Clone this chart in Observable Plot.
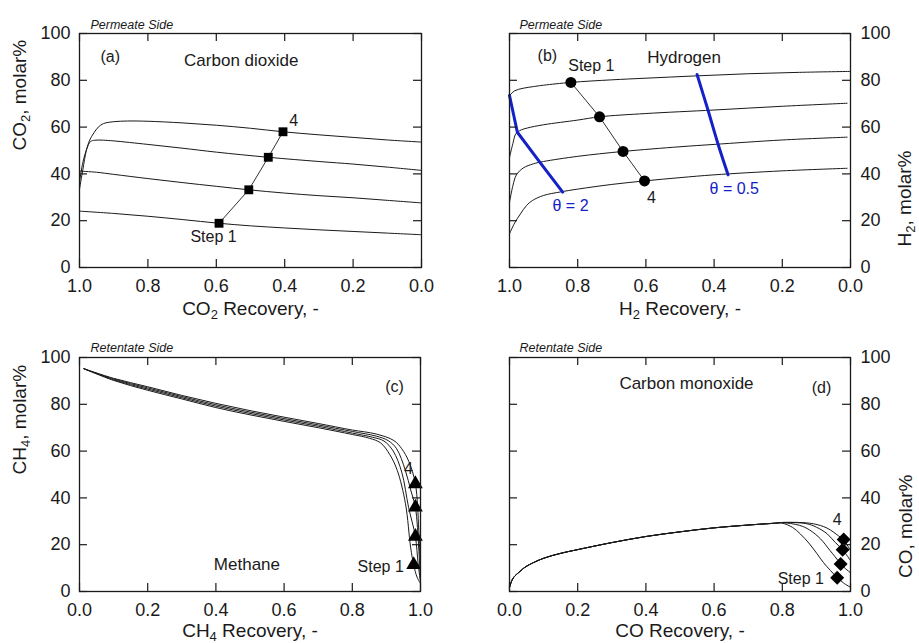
<!DOCTYPE html>
<html><head><meta charset="utf-8">
<script src="https://cdn.jsdelivr.net/npm/d3@7"></script>
<script src="https://cdn.jsdelivr.net/npm/@observablehq/plot@0.6"></script>
<style>
body{margin:0;background:#fff;}
#chart{position:relative;width:919px;height:643px;background:#fff;overflow:hidden;}
.panel{position:absolute;}
</style></head><body><div id="chart"></div>
<script>
// ---------- tick values ----------
const xTicks = [0, 0.2, 0.4, 0.6, 0.8, 1.0];
const yTicks = [0, 20, 40, 60, 80, 100];

// ---------- (a) CO2, permeate side ----------
const co2Step1 = [[1.0,24.1],[0.9,23.1],[0.8,21.9],[0.7,20.5],[0.592,18.9],[0.5,17.8],[0.4,16.9],[0.3,16.1],[0.2,15.4],[0.1,14.7],[0.0,14.0]];
const co2Step2 = [[1.0,41.2],[0.95,40.7],[0.9,39.8],[0.8,38.0],[0.7,36.3],[0.6,34.7],[0.505,33.2],[0.4,31.8],[0.3,30.7],[0.2,29.8],[0.1,28.7],[0.0,27.6]];
const co2Step3 = [[1.0,36.5],[0.99,45.0],[0.978,51.0],[0.968,53.8],[0.955,54.4],[0.93,54.4],[0.9,54.1],[0.8,52.6],[0.7,51.0],[0.6,49.3],[0.448,47.1],[0.3,45.3],[0.2,44.2],[0.1,42.9],[0.0,41.5]];
const co2Step4 = [[1.0,33.5],[0.99,42.0],[0.98,50.0],[0.97,54.5],[0.958,57.5],[0.945,60.0],[0.93,61.5],[0.9,62.3],[0.86,62.6],[0.8,62.5],[0.7,61.8],[0.6,60.8],[0.5,59.5],[0.405,58.0],[0.3,56.7],[0.2,55.6],[0.1,54.5],[0.0,53.6]];
const co2Markers = [[0.592,18.9],[0.505,33.2],[0.448,47.1],[0.405,58.0]];

// ---------- (b) H2, permeate side ----------
const h2Step1 = [[1.0,73.5],[0.985,75.5],[0.96,76.6],[0.93,77.3],[0.9,77.9],[0.82,79.1],[0.7,80.2],[0.6,80.9],[0.45,81.9],[0.3,82.8],[0.15,83.4],[0.0,83.8]];
const h2Step2 = [[1.0,47.1],[0.99,53.0],[0.982,57.0],[0.97,58.5],[0.948,59.6],[0.9,61.0],[0.8,63.0],[0.736,64.4],[0.6,65.8],[0.4,67.3],[0.2,68.9],[0.01,70.2]];
const h2Step3 = [[1.0,27.9],[0.99,35.0],[0.98,39.5],[0.96,42.5],[0.93,44.3],[0.9,45.3],[0.8,47.5],[0.667,49.6],[0.5,51.6],[0.4,52.6],[0.2,54.5],[0.01,55.7]];
const h2Step4 = [[1.0,14.4],[0.985,19.0],[0.968,22.9],[0.95,26.5],[0.933,28.6],[0.9,30.8],[0.85,32.3],[0.8,33.5],[0.7,35.5],[0.604,37.0],[0.5,38.4],[0.4,39.6],[0.2,41.3],[0.01,42.4]];
const h2Markers = [[0.820,79.1],[0.736,64.4],[0.667,49.6],[0.604,37.0]];
const theta2 = [[1.0,73.5],[0.977,57.8],[0.909,44.6],[0.844,32.2]];
const theta05 = [[0.450,82.5],[0.418,67.3],[0.389,53.0],[0.359,39.6]];

// ---------- (c) CH4, retentate side ----------
const ch4Step1 = [[0.013,95.2],[0.1,90.2],[0.2,86.0],[0.3,82.3],[0.4,78.6],[0.5,75.5],[0.6,72.7],[0.7,70.0],[0.8,67.1],[0.85,65.5],[0.883,63.5],[0.91,58.5],[0.932,51.7],[0.956,37.5],[0.971,18.9],[0.98,11.4],[0.99,6.1],[1.0,3.4]];
const ch4Step2 = [[0.013,95.2],[0.1,90.5],[0.2,86.5],[0.3,82.8],[0.4,79.2],[0.5,76.1],[0.6,73.3],[0.7,70.6],[0.8,67.7],[0.86,65.9],[0.893,64.3],[0.92,60.0],[0.945,51.0],[0.965,36.0],[0.985,23.5],[0.993,12.0],[1.0,4.0]];
const ch4Step3 = [[0.013,95.2],[0.1,90.8],[0.2,87.0],[0.3,83.3],[0.4,79.8],[0.5,76.7],[0.6,73.9],[0.7,71.2],[0.8,68.4],[0.87,66.4],[0.905,64.5],[0.93,61.0],[0.955,52.0],[0.972,43.0],[0.985,36.0],[0.995,18.0],[1.0,5.0]];
const ch4Step4 = [[0.013,95.2],[0.1,91.1],[0.2,87.5],[0.3,83.8],[0.4,80.4],[0.5,77.3],[0.6,74.5],[0.7,71.8],[0.8,69.0],[0.87,67.3],[0.922,64.5],[0.945,61.0],[0.966,55.5],[0.985,46.0],[0.995,26.0],[1.0,7.7]];
const ch4Markers = [[0.980,11.4],[0.985,23.5],[0.985,36.0],[0.985,46.0]];

// ---------- (d) CO, retentate side ----------
const coRise = [[0,1.8],[0.005,4.0],[0.012,6.0],[0.03,8.5],[0.05,10.8],[0.1,14.2],[0.15,16.3],[0.2,17.9],[0.3,20.9],[0.4,23.5],[0.5,25.5],[0.6,27.2],[0.7,28.4],[0.78,29.2]];
const coStep1 = [[0.8,29.2],[0.83,27.4],[0.853,24.6],[0.88,20.3],[0.902,16.1],[0.92,12.5],[0.941,9.0],[0.961,6.0],[0.98,3.6],[1.0,1.8]];
const coStep2 = [[0.8,29.4],[0.85,28.3],[0.88,26.3],[0.912,22.5],[0.94,17.5],[0.955,14.8],[0.971,11.8],[0.985,9.8],[1.0,8.0]];
const coStep3 = [[0.8,29.5],[0.87,29.0],[0.9,27.5],[0.932,24.6],[0.955,21.0],[0.977,17.8],[1.0,13.2]];
const coStep4 = [[0.8,29.5],[0.88,29.2],[0.92,27.8],[0.941,26.3],[0.96,24.3],[0.98,22.0],[1.0,17.5]];
const coMarkers = [[0.961,5.9],[0.971,11.8],[0.977,17.8],[0.980,22.2]];

// ---------- annotation texts ----------
const aLabels = [{x:0.910,y:90.0,text:"(a)",size:16},{x:0.527,y:88.3,text:"Carbon dioxide",size:17},{x:0.608,y:12.9,text:"Step 1",size:16},{x:0.374,y:62.7,text:"4",size:16}];
const bLabels = [{x:0.889,y:90.6,text:"(b)",size:16},{x:0.760,y:86.3,text:"Step 1",size:16},{x:0.488,y:89.9,text:"Hydrogen",size:17},{x:0.584,y:29.9,text:"4",size:16}];
const bThetaLabels = [{x:0.821,y:26.4,text:"θ = 2"},{x:0.341,y:33.8,text:"θ = 0.5"}];
const cLabels = [{x:0.924,y:87.3,text:"(c)",size:16,anchor:"middle"},{x:0.491,y:11.7,text:"Methane",size:17,anchor:"middle"},{x:0.951,y:10.4,text:"Step 1",size:16,anchor:"end"},{x:0.965,y:52.4,text:"4",size:16,anchor:"middle"}];
const dLabels = [{x:0.915,y:87.2,text:"(d)",size:16,anchor:"middle"},{x:0.519,y:89.0,text:"Carbon monoxide",size:17,anchor:"middle"},{x:0.922,y:5.4,text:"Step 1",size:16,anchor:"end"},{x:0.961,y:30.6,text:"4",size:16,anchor:"middle"}];

const FONT = '"Liberation Sans", Arial, Helvetica, sans-serif';
const INK = "#1a1a1a";
const BLUE = "#1420c8";

const toRows = (curves) => curves.flatMap((pts, i) => pts.map(([x, y]) => ({x, y, step: i + 1})));
const toPts = (pts) => pts.map(([x, y]) => ({x, y}));

function subscriptify(svg) {
  d3.select(svg).selectAll("text").each(function () {
    const t = this.textContent;
    if (!/[\u2080-\u2089]/.test(t)) return;
    const sel = d3.select(this);
    sel.text(null);
    let shifted = false;
    for (const p of t.split(/([\u2080-\u2089]+)/)) {
      if (!p) continue;
      if (/[\u2080-\u2089]/.test(p)) {
        sel.append("tspan").attr("dy", 4).attr("font-size", "13px")
          .text(p.replace(/[\u2080-\u2089]/g, c => String.fromCharCode(c.charCodeAt(0) - 0x2080 + 48)));
        shifted = true;
      } else {
        const ts = sel.append("tspan").text(p);
        if (shifted) { ts.attr("dy", -4); shifted = false; }
      }
    }
  });
}

function panel(cfg) {
  const {left, top, width, height, mL, mR, mT, mB, reversed, yRight, xLabel, xTitleDy, yLabel, side, sideDx, sideDy, yTitleDx, marks} = cfg;
  const fw = width - mL - mR, fh = height - mT - mB, tk = 8;
  const svg = Plot.plot({
    width, height, marginLeft: mL, marginRight: mR, marginTop: mT, marginBottom: mB,
    x: {domain: reversed ? [1, 0] : [0, 1]},
    y: {domain: [0, 100]},
    style: {fontFamily: FONT, fontSize: "18px", color: INK, background: "transparent", overflow: "visible"},
    marks: [
      ...marks,
      Plot.frame({stroke: INK, strokeWidth: 1.3}),
      Plot.tickX(xTicks, {x: d => d, insetTop: fh - tk, stroke: INK, strokeWidth: 1.2}),
      Plot.tickX(xTicks, {x: d => d, insetBottom: fh - tk, stroke: INK, strokeWidth: 1.2}),
      Plot.tickY(yTicks, {y: d => d, insetRight: fw - tk, stroke: INK, strokeWidth: 1.2}),
      Plot.tickY(yTicks, {y: d => d, insetLeft: fw - tk, stroke: INK, strokeWidth: 1.2}),
      Plot.axisX(xTicks, {tickSize: 0, tickPadding: 12, tickFormat: d3.format(".1f"), label: null, fontSize: 18, fill: INK}),
      Plot.axisY(yTicks, {anchor: yRight ? "right" : "left", tickSize: 0, tickPadding: yRight ? 10 : 9, label: null, fontSize: 18, fill: INK}),
      Plot.text([xLabel], {frameAnchor: "bottom", dy: xTitleDy, lineAnchor: "top", fontSize: 19, fill: INK}),
      Plot.text([yLabel], {frameAnchor: yRight ? "right" : "left", rotate: -90, dx: yTitleDx, fontSize: 19, fill: INK}),
      Plot.text([side], {frameAnchor: "top-left", dx: sideDx, dy: sideDy, textAnchor: "start", fontStyle: "italic", fontSize: 12.5, fill: INK})
    ]
  });
  subscriptify(svg);
  const div = document.createElement("div");
  div.className = "panel";
  Object.assign(div.style, {left: left + "px", top: top + "px", width: width + "px", height: height + "px"});
  div.appendChild(svg);
  document.getElementById("chart").appendChild(div);
}

const curveStyle = {x: "x", y: "y", z: "step", stroke: INK, strokeWidth: 1, curve: "catmull-rom"};
const textMarks = (labels) => [
  Plot.text(labels, {filter: d => d.anchor !== "end", x: "x", y: "y", text: "text", fontSize: d => d.size, textAnchor: "middle", fill: INK}),
  Plot.text(labels, {filter: d => d.anchor === "end", x: "x", y: "y", text: "text", fontSize: d => d.size, textAnchor: "end", fill: INK})
];

// (a)
panel({left: 0, top: 0, width: 460, height: 320, mL: 79, mR: 39, mT: 33, mB: 53, reversed: true, yRight: false,
  xLabel: "CO\u2082 Recovery, -", xTitleDy: 34, yLabel: "CO\u2082, molar%", side: "Permeate Side", sideDx: 11, sideDy: -13, yTitleDx: -60,
  marks: [
    Plot.line(toRows([co2Step1, co2Step2, co2Step3, co2Step4]), curveStyle),
    Plot.line(toPts(co2Markers), {x: "x", y: "y", stroke: INK, strokeWidth: 0.9}),
    Plot.dot(toPts(co2Markers), {x: "x", y: "y", symbol: "square", r: 5, fill: "#000", stroke: "none"}),
    ...textMarks(aLabels)
  ]});

// (b)
panel({left: 460, top: 0, width: 459, height: 320, mL: 49, mR: 69, mT: 33, mB: 53, reversed: true, yRight: true,
  xLabel: "H\u2082 Recovery, -", xTitleDy: 34, yLabel: "H\u2082, molar%", side: "Permeate Side", sideDx: 10, sideDy: -13, yTitleDx: 54,
  marks: [
    Plot.line(toRows([h2Step1, h2Step2, h2Step3, h2Step4]), curveStyle),
    Plot.line(toPts(theta2), {x: "x", y: "y", stroke: BLUE, strokeWidth: 3}),
    Plot.line(toPts(theta05), {x: "x", y: "y", stroke: BLUE, strokeWidth: 3, curve: "catmull-rom"}),
    Plot.line(toPts(h2Markers), {x: "x", y: "y", stroke: INK, strokeWidth: 0.9}),
    Plot.dot(toPts(h2Markers), {x: "x", y: "y", r: 5.5, fill: "#000", stroke: "none"}),
    ...textMarks(bLabels),
    Plot.text(bThetaLabels, {x: "x", y: "y", text: "text", fontSize: 16, fill: BLUE})
  ]});

// (c)
panel({left: 0, top: 320, width: 460, height: 323, mL: 79, mR: 40, mT: 37, mB: 52, reversed: false, yRight: false,
  xLabel: "CH\u2084 Recovery, -", xTitleDy: 32, yLabel: "CH\u2084, molar%", side: "Retentate Side", sideDx: 11, sideDy: -14, yTitleDx: -60,
  marks: [
    Plot.line(toRows([ch4Step1, ch4Step2, ch4Step3, ch4Step4]), curveStyle),
    Plot.dot(toPts(ch4Markers), {x: "x", y: "y", symbol: "triangle", r: 5.5, fill: "#000", stroke: "none"}),
    ...textMarks(cLabels)
  ]});

// (d)
panel({left: 460, top: 320, width: 459, height: 323, mL: 49, mR: 69, mT: 37, mB: 52, reversed: false, yRight: true,
  xLabel: "CO Recovery, -", xTitleDy: 32, yLabel: "CO, molar%", side: "Retentate Side", sideDx: 10, sideDy: -14, yTitleDx: 55,
  marks: [
    Plot.line(toRows([coRise.concat(coStep1), coRise.concat(coStep2), coRise.concat(coStep3), coRise.concat(coStep4)]), curveStyle),
    Plot.dot(toPts(coMarkers), {x: "x", y: "y", symbol: "diamond2", r: 6.3, fill: "#000", stroke: "none"}),
    ...textMarks(dLabels)
  ]});
</script>
</body></html>
